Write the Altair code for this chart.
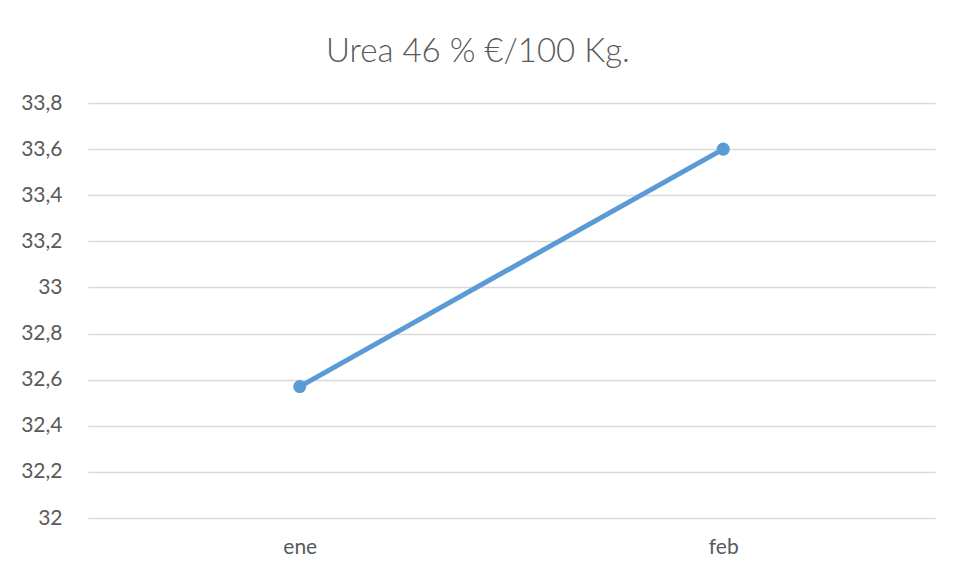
import altair as alt
import pandas as pd

months = ["ene", "feb"]
prices = [32.57, 33.6]
y_ticks = [32.0, 32.2, 32.4, 32.6, 32.8, 33.0, 33.2, 33.4, 33.6, 33.8]
title_text = "Urea 46 % €/100 Kg."

df = pd.DataFrame({"mes": months, "precio": prices})

x = alt.X("mes:N", sort=months,
          scale=alt.Scale(type="point", padding=0.5),
          axis=alt.Axis(title=None, labelAngle=0, ticks=False, domain=False,
                        grid=False, labelFontSize=21, labelColor="#595959",
                        labelFont="Lato", labelPadding=18))
y = alt.Y("precio:Q",
          scale=alt.Scale(domain=[32, 33.8], nice=False, zero=False),
          axis=alt.Axis(title=None, values=y_ticks, ticks=False, domain=False,
                        grid=True, gridColor="#d9d9d9", gridWidth=1.5,
                        labelFontSize=21, labelColor="#595959", labelFont="Lato",
                        labelPadding=26,
                        labelExpr="replace(toString(round(datum.value*10)/10), '.', ',')"))

line = alt.Chart(df).mark_line(color="#5B9BD5", strokeWidth=5).encode(x=x, y=y)
pts = alt.Chart(df).mark_point(color="#5B9BD5", filled=True, opacity=1, size=170).encode(x=x, y=y)

chart = (line + pts).properties(
    width=847, height=415,
    background="white",
    title=alt.Title(title_text, fontSize=33, font="Lato", fontWeight=300,
                    color="#595959", anchor="middle", frame="bounds",
                    baseline="alphabetic", offset=10, dy=13),
    padding={"left": 80, "top": 95, "right": 10, "bottom": 52},
    autosize=alt.AutoSizeParams(type="none"),
).configure_view(strokeWidth=0, stroke="transparent")

chart.save("out.html", embed_options={"renderer": "svg", "actions": False})
